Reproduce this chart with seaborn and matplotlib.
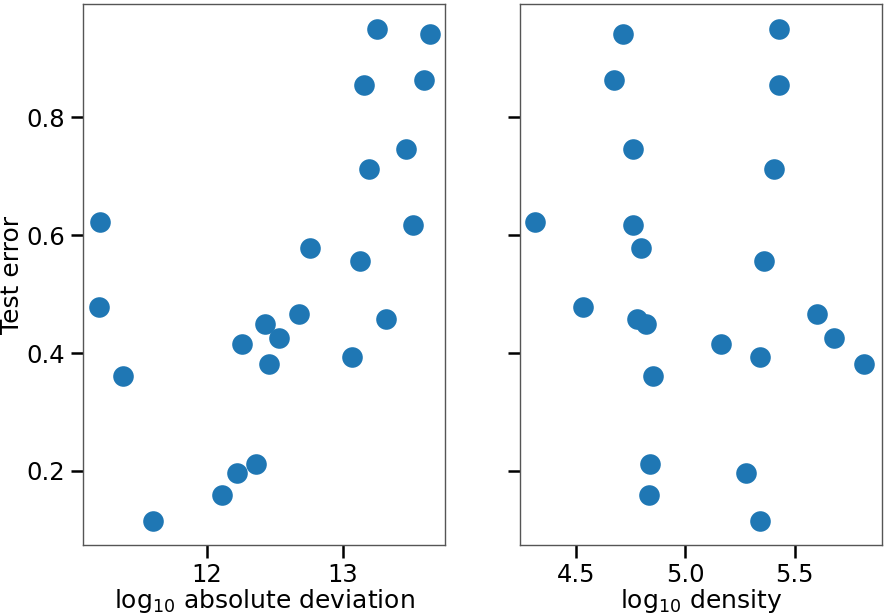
import matplotlib
matplotlib.use("Agg")
import matplotlib.pyplot as plt
import seaborn as sns
import pandas as pd

log_abs_dev = [11.213, 11.206, 11.382, 11.603, 12.11, 12.22, 12.36, 12.26, 12.43, 12.46,
               12.53, 12.68, 12.76, 13.07, 13.13, 13.16, 13.19, 13.25, 13.32, 13.47,
               13.52, 13.60, 13.64]
log_density = [4.312, 4.535, 4.851, 5.341, 4.833, 5.277, 4.837, 5.163, 4.819, 5.815,
               5.678, 5.600, 4.797, 5.341, 5.360, 5.427, 5.404, 5.427, 4.778, 4.760,
               4.760, 4.677, 4.714]
test_error = [0.622, 0.478, 0.361, 0.115, 0.159, 0.197, 0.212, 0.415, 0.449, 0.381,
              0.425, 0.466, 0.578, 0.393, 0.556, 0.854, 0.712, 0.949, 0.458, 0.746,
              0.617, 0.863, 0.941]

df = pd.DataFrame({"dev": log_abs_dev, "dens": log_density, "err": test_error})

plt.rcParams.update({
    "axes.edgecolor": "#555555",
    "axes.linewidth": 1.0,
    "xtick.major.size": 9,
    "ytick.major.size": 9,
    "xtick.major.width": 1.8,
    "ytick.major.width": 1.8,
    "xtick.labelsize": 17.5,
    "ytick.labelsize": 17.5,
    "axes.labelsize": 18,
})

fig, axes = plt.subplots(1, 2, figsize=(8.87, 6.15), dpi=100, sharey=True)
fig.subplots_adjust(left=0.094, right=0.994, top=0.993, bottom=0.114, wspace=0.205)

sns.scatterplot(data=df, x="dev", y="err", ax=axes[0], s=220, color="#1f77b4", linewidth=0)
sns.scatterplot(data=df, x="dens", y="err", ax=axes[1], s=220, color="#1f77b4", linewidth=0)

axes[0].set_xlim(11.088, 13.757)
axes[1].set_xlim(4.244, 5.897)
axes[0].set_ylim(0.0746, 0.9915)
axes[0].set_xticks([12, 13])
axes[1].set_xticks([4.5, 5.0, 5.5])
axes[0].set_yticks([0.2, 0.4, 0.6, 0.8])
axes[0].set_xlabel(r"log$_{10}$ absolute deviation", labelpad=0)
axes[1].set_xlabel(r"log$_{10}$ density", labelpad=0)
axes[0].set_ylabel("Test error", labelpad=2)
axes[1].set_ylabel("")
for ax in axes:
    ax.tick_params(colors="black", pad=4)

fig.savefig("out.png", dpi=100)
